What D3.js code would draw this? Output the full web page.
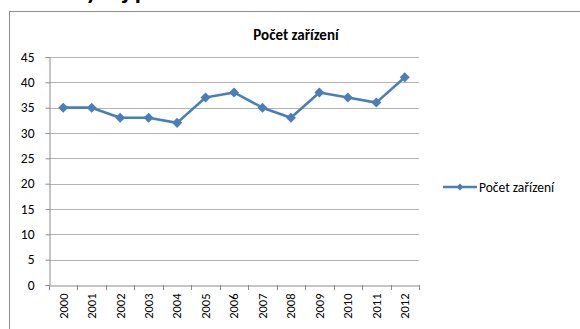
<!DOCTYPE html>
<html>
<head>
<meta charset="utf-8">
<script src="https://cdn.jsdelivr.net/npm/d3@7"></script>
<style>
  html, body { margin: 0; padding: 0; background: #fff; }
  svg { display: block; }
</style>
</head>
<body>
<svg id="chart" width="580" height="329"></svg>
<script>
// Number of facilities per year
const years = ["2000","2001","2002","2003","2004","2005","2006","2007","2008","2009","2010","2011","2012"];
const counts = [35, 35, 33, 33, 32, 37, 38, 35, 33, 38, 37, 36, 41];
const yTicks = [0, 5, 10, 15, 20, 25, 30, 35, 40, 45];
const seriesName = "Počet zařízení";
const heading = "Graf 1: Vývoj počtu zařízení v letech 2000 – 2012";

const svg = d3.select("#chart");
const font = "Calibri, Carlito, Lato, 'Open Sans', sans-serif";
const lineColor = "#4a7ebb";

// heading of the surrounding document, cut by the top edge
svg.append("text")
  .attr("x", -4).attr("y", -1)
  .attr("font-family", font)
  .attr("font-size", 25).attr("font-weight", "bold")
  .attr("fill", "#000")
  .text(heading);

// chart frame
svg.append("rect")
  .attr("x", 9.5).attr("y", 11.5)
  .attr("width", 600).attr("height", 400)
  .attr("fill", "#fff").attr("stroke", "#8c8c8c").attr("stroke-width", 1);

const plot = { left: 49, right: 419, top: 57, bottom: 285 };

const x = d3.scaleBand().domain(years).range([plot.left, plot.right]);
const y = d3.scaleLinear().domain([0, 45]).range([plot.bottom, plot.top]);

// chart title
svg.append("text")
  .attr("x", 296).attr("y", 40)
  .attr("text-anchor", "middle")
  .attr("font-family", font).attr("font-size", 15).attr("font-weight", "bold")
  .attr("fill", "#000")
  .text(seriesName);

// horizontal gridlines
svg.append("g")
  .selectAll("line")
  .data(yTicks.filter(d => d > 0))
  .join("line")
  .attr("x1", plot.left).attr("x2", plot.right)
  .attr("y1", d => Math.round(y(d)) + 0.5).attr("y2", d => Math.round(y(d)) + 0.5)
  .attr("stroke", "#b3b3b3").attr("stroke-width", 1);

// y axis
const yAxis = svg.append("g")
  .attr("transform", `translate(${plot.left + 0.5},0)`)
  .call(d3.axisLeft(y).tickValues(yTicks).tickSize(4).tickPadding(11));
yAxis.select(".domain").attr("stroke", "#8c8c8c");
yAxis.selectAll(".tick line").attr("stroke", "#8c8c8c");
yAxis.selectAll(".tick text")
  .attr("font-family", font).attr("font-size", 13.5).attr("fill", "#000");

// x axis with tick marks on category boundaries
const xAxis = svg.append("g")
  .attr("transform", `translate(0,${plot.bottom + 0.5})`)
  .call(d3.axisBottom(x).tickSize(0).tickPadding(0));
xAxis.select(".domain").attr("stroke", "#8c8c8c");
xAxis.selectAll(".tick text")
  .attr("font-family", font).attr("font-size", 12.5).attr("fill", "#000")
  .attr("text-anchor", "end")
  .attr("transform", "rotate(-90)")
  .attr("x", -8).attr("y", 0).attr("dy", "0.35em");
svg.append("g")
  .selectAll("line")
  .data(d3.range(years.length + 1))
  .join("line")
  .attr("x1", i => Math.round(plot.left + i * x.step()) + 0.5)
  .attr("x2", i => Math.round(plot.left + i * x.step()) + 0.5)
  .attr("y1", plot.bottom).attr("y2", plot.bottom + 5)
  .attr("stroke", "#8c8c8c");

// series line
const cx = (d, i) => x(years[i]) + x.bandwidth() / 2;
svg.append("path")
  .datum(counts)
  .attr("fill", "none").attr("stroke", lineColor).attr("stroke-width", 2.6)
  .attr("stroke-linejoin", "round")
  .attr("d", d3.line().x(cx).y(d => y(d)));

// diamond markers
const diamond = d3.symbol().type(d3.symbolDiamond2).size(64);
svg.append("g")
  .selectAll("path")
  .data(counts)
  .join("path")
  .attr("transform", (d, i) => `translate(${cx(d, i)},${y(d)})`)
  .attr("d", diamond)
  .attr("fill", lineColor);

// legend
const lg = svg.append("g").attr("transform", "translate(443,187)");
lg.append("line").attr("x1", 0).attr("x2", 34).attr("y1", 0).attr("y2", 0)
  .attr("stroke", lineColor).attr("stroke-width", 2.6);
lg.append("path").attr("transform", "translate(17,0)")
  .attr("d", d3.symbol().type(d3.symbolDiamond2).size(30)).attr("fill", lineColor);
lg.append("text").attr("x", 36).attr("y", 0).attr("dy", "0.35em")
  .attr("font-family", font).attr("font-size", 13.5).attr("fill", "#000")
  .text(seriesName);
</script>
</body>
</html>
